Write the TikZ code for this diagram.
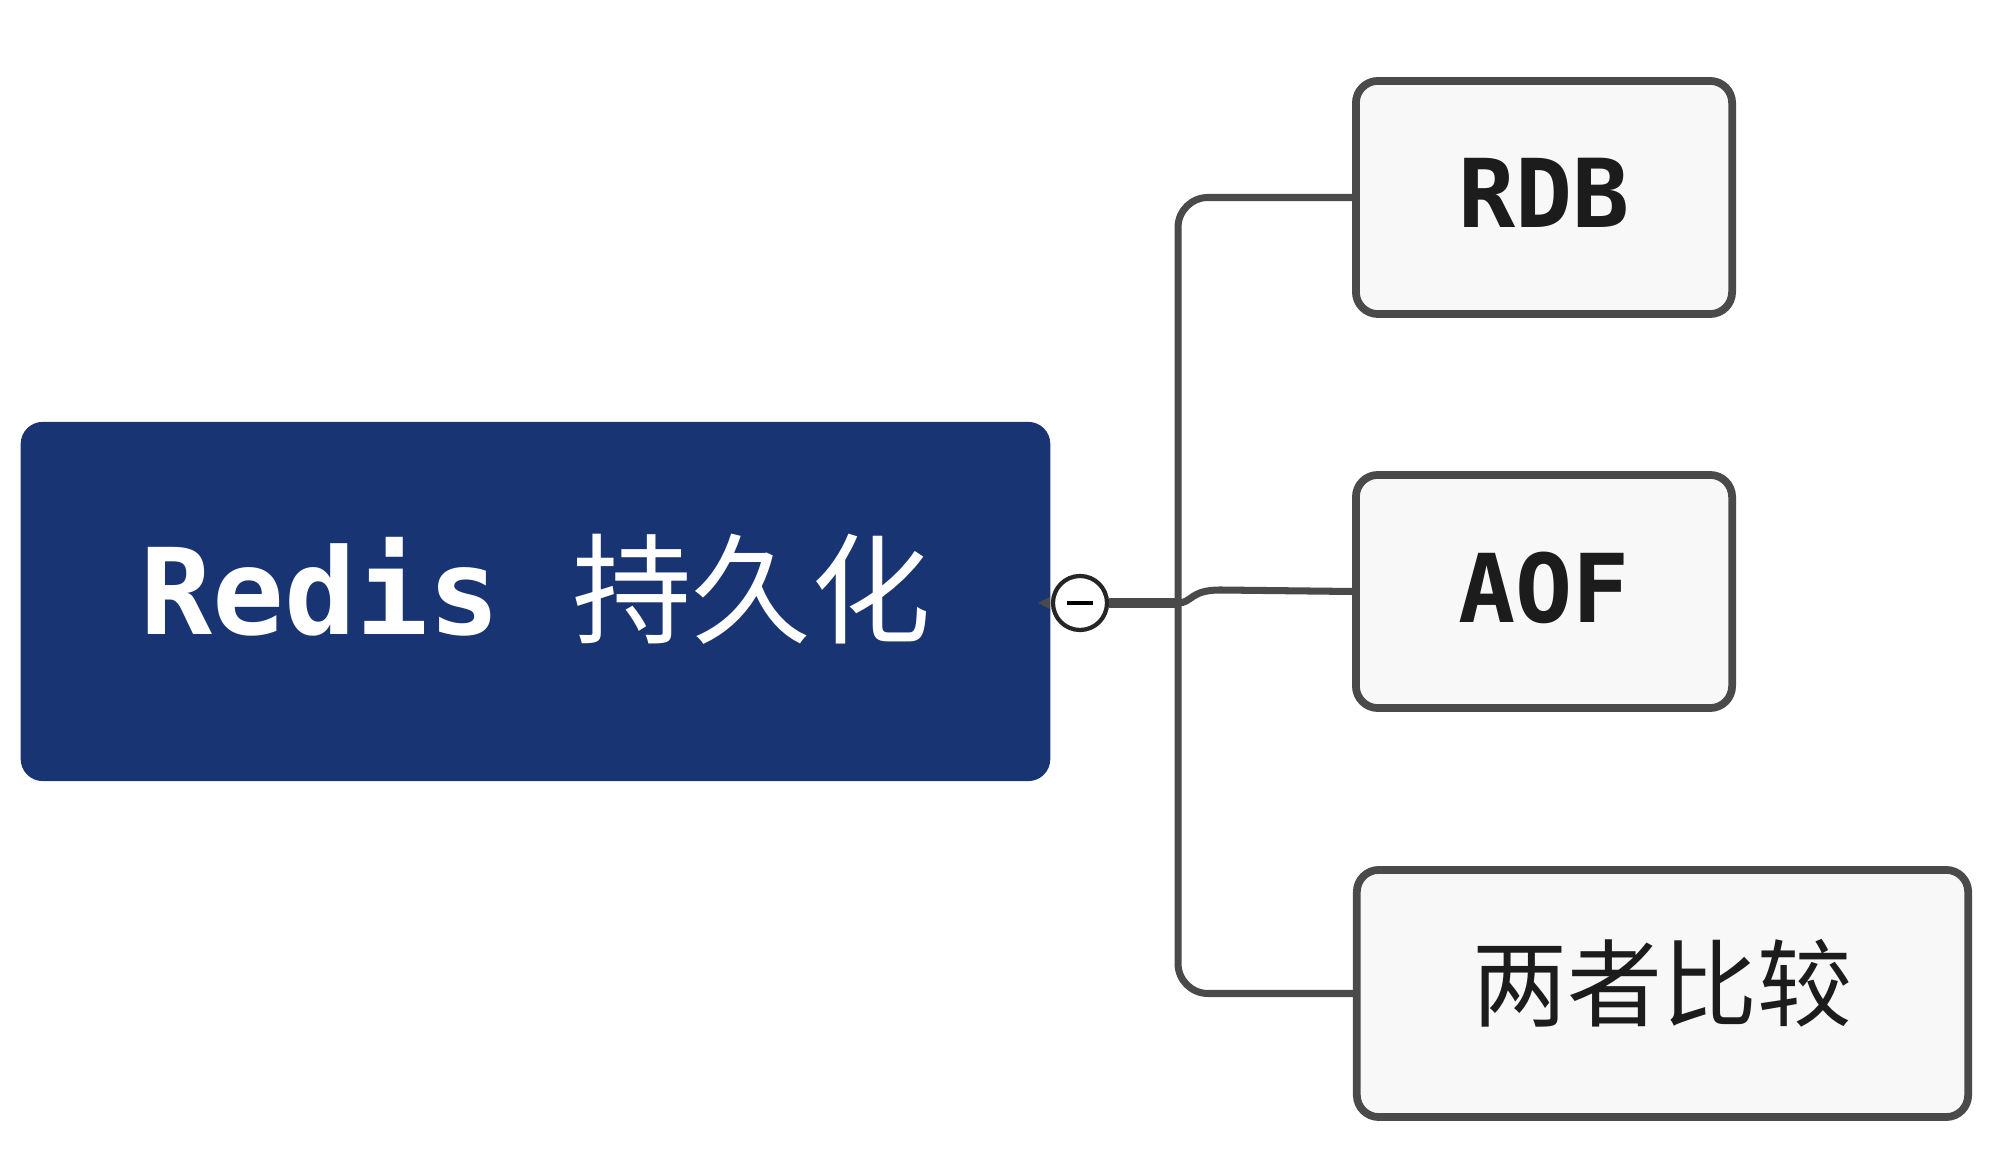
\documentclass[tikz,border=0pt]{standalone}
\usepackage{fontspec}
\newfontfamily\monof{DejaVu Sans Mono}
\newfontfamily\cjk{Noto Sans CJK SC}
\definecolor{navy}{HTML}{183473}
\definecolor{boxfill}{HTML}{F8F8F8}
\definecolor{edge}{HTML}{4A4A4A}
\definecolor{ink}{HTML}{1C1C1C}
\begin{document}
\begin{tikzpicture}[x=0.01cm,y=-0.01cm,
  rootbox/.style={rectangle,rounded corners=0.22cm,fill=navy,inner sep=0pt,
    minimum width=10.29cm,minimum height=3.59cm},
  childbox/.style={rectangle,rounded corners=0.22cm,draw=edge,line width=2.2pt,
    fill=boxfill,inner sep=0pt,minimum height=2.33cm},
  rootlabel/.style={text=white,inner sep=0pt,font=\fontsize{34}{40}\selectfont},
  childlabel/.style={text=ink,inner sep=0pt,font=\fontsize{27}{32}\selectfont},
  conn/.style={draw=edge,line width=2pt,rounded corners=0.3cm},
  trunk/.style={draw=edge,line width=3pt}]
\useasboundingbox (0,0) rectangle (2000,1165);
% nodes
\node[rootbox] (root) at (535.5,601.5) {};
\node[rootlabel] (rootlbl) at ([yshift=0.12cm]root.center) {{\monof\bfseries Redis }{\cjk 持久化}};
\node[childbox,minimum width=3.76cm] (rdb) at (1544,197.5) {};
\node[childlabel] (rdblbl) at ([yshift=0.05cm]rdb.center) {\monof\bfseries RDB};
\node[childbox,minimum width=3.76cm] (aof) at (1544,591.5) {};
\node[childlabel] (aoflbl) at ([yshift=0.04cm]aof.center) {\monof\bfseries AOF};
\node[childbox,minimum width=6.11cm,minimum height=2.47cm] (cmp) at (1662.5,993.5) {};
\node[childlabel] (cmplbl) at ([yshift=0.10cm]cmp.center) {\cjk 两者比较};
\coordinate (j) at (1178,603);
% connectors
\draw[conn] (rdb.west) -| (j);
\draw[conn] (cmp.west) -| (j);
\draw[draw=edge,line width=2pt] (j) .. controls (1192,603) and (1190,590) .. (1220,590) -- (aof.west);
% collapse control
\node[circle,draw=black!85,line width=1.2pt,fill=white,minimum size=0.54cm,inner sep=0pt] (ctl) at (1080,603) {};
\draw[trunk] (ctl.east) -- (j);
\draw[black,line width=1.4pt] ([xshift=-0.13cm]ctl.center) -- ([xshift=0.13cm]ctl.center);
\fill[edge] ([xshift=-0.01cm,yshift=0.06cm]ctl.west) -- ([xshift=-0.13cm]ctl.west) -- ([xshift=-0.01cm,yshift=-0.06cm]ctl.west) -- cycle;
\end{tikzpicture}
\end{document}
